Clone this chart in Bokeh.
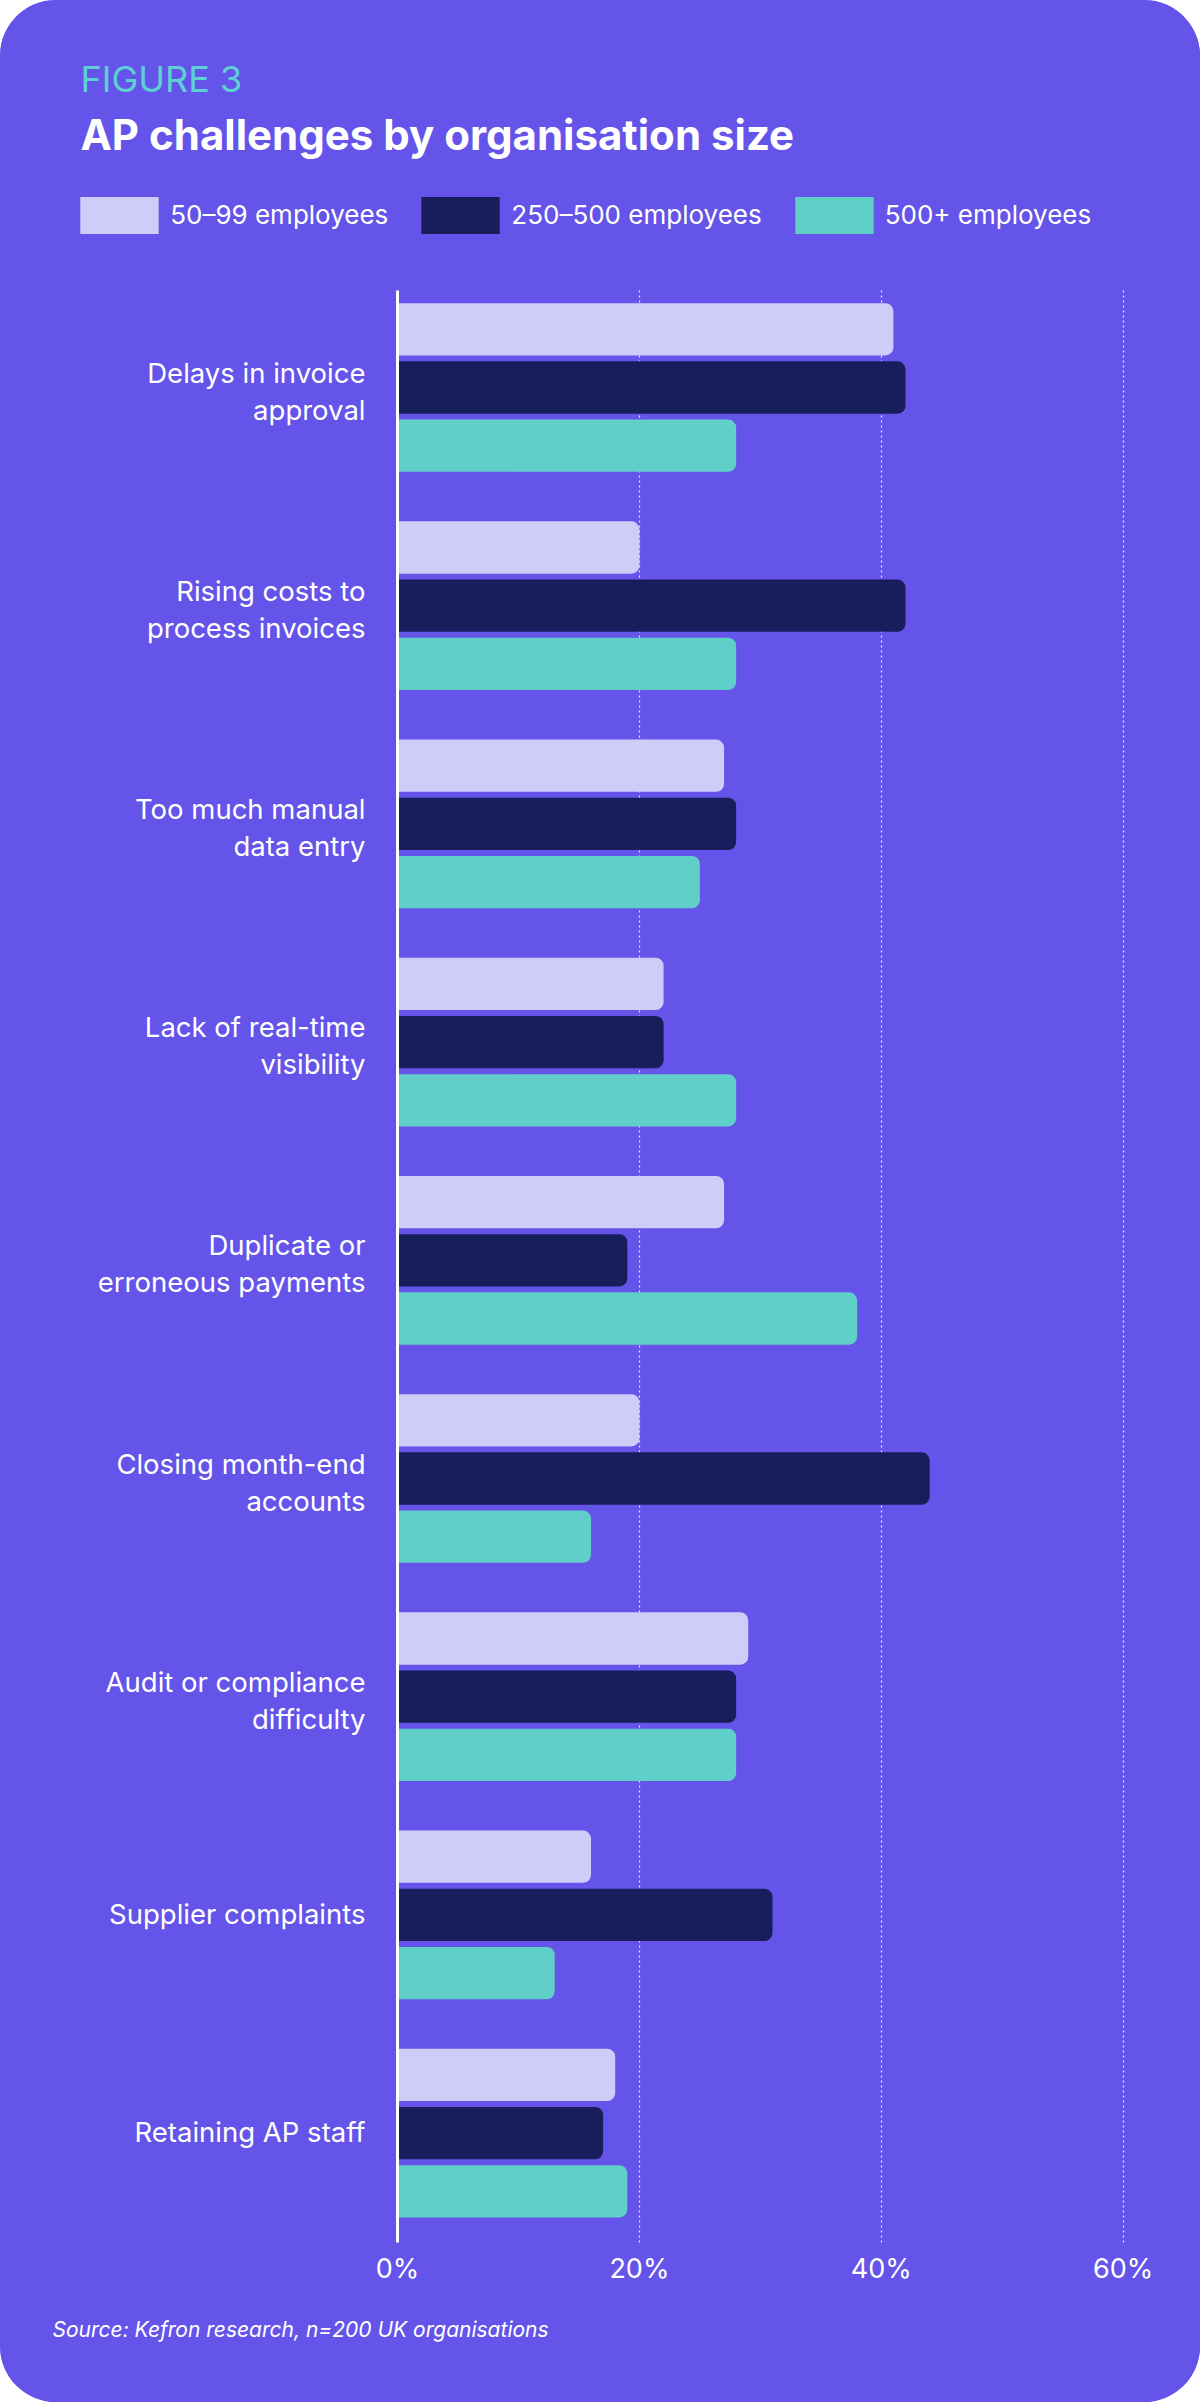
import numpy as np
from bokeh.plotting import figure
from bokeh.models import (Range1d, FixedTicker, PrintfTickFormatter, Label, LabelSet, Grid,
                          ColumnDataSource, Legend, LegendItem)
from bokeh.core.properties import value
from bokeh.embed import file_html
from bokeh.resources import INLINE

# ---------------- data ----------------
categories = ["Delays in invoice\napproval", "Rising costs to\nprocess invoices",
              "Too much manual\ndata entry", "Lack of real-time\nvisibility",
              "Duplicate or\nerroneous payments", "Closing month-end\naccounts",
              "Audit or compliance\ndifficulty", "Supplier complaints", "Retaining AP staff"]
series_names = ["50\u201399 employees", "250\u2013500 employees", "500+ employees"]
small_org = [41, 20, 27, 22, 27, 20, 29, 16, 18]
mid_org = [42, 42, 28, 22, 19, 44, 28, 31, 17]
large_org = [28, 28, 25, 28, 38, 16, 28, 13, 19]
x_ticks = [0, 20, 40, 60]
fig_label = "FIGURE 3"
title_text = "AP challenges by organisation size"
source_text = "Source: Kefron research, n=200 UK organisations"

# ---------------- style / layout ----------------
BG = "#6454EA"
COLORS = ["#D0CCF8", "#171E5B", "#61CFC9"]
TEAL_TXT = "#5DD0D3"
FONT = "Inter"

W, H = 1200, 2402
GROUP_PX = 218.2          # pixels between category groups
FIRST_PX = 387            # canvas y of first group's centre
PCT_PX = 12.095           # pixels per percentage point
ZERO_PX = 397             # canvas x of the 0 % line
PLOT_TOP_PX, PLOT_BOT_PX = 290, 2242

def ydata(cy):
    return (cy - FIRST_PX) / GROUP_PX

y_top, y_bot = ydata(PLOT_TOP_PX), ydata(PLOT_BOT_PX)
bar_step = 58.2 / GROUP_PX
bar_h = 52.3 / GROUP_PX

p = figure(width=W, height=H,
           x_range=Range1d(-ZERO_PX / PCT_PX, (W - ZERO_PX) / PCT_PX),
           y_range=Range1d(ydata(H), ydata(0)),
           output_backend="svg", toolbar_location=None, title=None,
           min_border_left=0, min_border_right=0, min_border_top=0, min_border_bottom=0,
           background_fill_color=BG, border_fill_color=BG, outline_line_color=None)
p.styles = {"border-radius": "56px", "overflow": "hidden", "background-color": BG}

idx = np.arange(len(categories))
renderers = []
for k, (vals, col) in enumerate(zip([small_org, mid_org, large_org], COLORS)):
    src = ColumnDataSource(dict(y=idx + (k - 1) * bar_step, v=vals))
    r = p.hbar(y="y", left=0, right="v", height=bar_h, source=src,
               fill_color=col, line_color=None, border_radius=(0, 8, 8, 0))
    renderers.append(r)

# vertical dotted grid
p.ygrid.visible = False
if "cross_bounds" in Grid.properties():
    p.xgrid.ticker = FixedTicker(ticks=x_ticks[1:])
    p.xgrid.cross_bounds = (y_top, y_bot)
    p.xgrid.grid_line_color = "white"
    p.xgrid.grid_line_alpha = 0.85
    p.xgrid.grid_line_width = 1.2
    p.xgrid.grid_line_dash = "2 3"
else:
    p.xgrid.visible = False
    gx = x_ticks[1:]
    p.segment(x0=gx, x1=gx, y0=[y_top] * len(gx), y1=[y_bot] * len(gx),
              line_color="white", line_alpha=0.85, line_width=1.2, line_dash="2 3")

# left axis: white baseline at 0 %
p.yaxis.fixed_location = 0
p.yaxis.bounds = (y_top, y_bot)
p.yaxis.ticker = FixedTicker(ticks=[])
p.yaxis.axis_line_color = "white"
p.yaxis.axis_line_width = 3
p.yaxis.major_tick_line_color = None
p.yaxis.minor_tick_line_color = None
p.yaxis.major_tick_out = 0
p.yaxis.major_label_standoff = 0
p.yaxis.major_label_text_font_size = "0px"

# bottom axis: percentage ticks
p.xaxis.fixed_location = y_bot
p.xaxis.ticker = FixedTicker(ticks=x_ticks)
p.xaxis.formatter = PrintfTickFormatter(format="%d%%")
p.xaxis.axis_line_color = None
p.xaxis.major_tick_line_color = None
p.xaxis.minor_tick_line_color = None
p.xaxis.major_tick_out = 0
p.xaxis.major_tick_in = 0
p.xaxis.major_label_text_color = "white"
p.xaxis.major_label_text_font = FONT
p.xaxis.major_label_text_font_size = "27px"
p.xaxis.major_label_standoff = 9

# category labels (right-aligned, one row per text line)
lx, ly, lt = [], [], []
for i, c in enumerate(categories):
    lines = c.split("\n")
    offs = [9] if len(lines) == 1 else [-5, 32]
    for line, o in zip(lines, offs):
        lt.append(line)
        ly.append(i + o / GROUP_PX)
        lx.append(365)
lab_src = ColumnDataSource(dict(x=lx, y=ly, t=lt))
p.add_layout(LabelSet(x="x", y="y", text="t", source=lab_src, x_units="screen", y_units="data",
                      text_align="right", text_baseline="alphabetic", text_color="white",
                      text_font=value(FONT), text_font_size="27.5px"))

# legend (legend glyphs are drawn inset by 10 % of the glyph box)
GW, GH = 98, 46
inset_x, inset_y = 0.1 * GW, 0.1 * GH
legend = Legend(items=[LegendItem(label=n, renderers=[r]) for n, r in zip(series_names, renderers)],
                orientation="horizontal", location=(80 - inset_x, H - 233 - inset_y),
                padding=0, margin=0, spacing=23, glyph_width=GW, glyph_height=GH,
                label_standoff=2,
                label_text_font=FONT, label_text_font_size="26px", label_text_color="white",
                background_fill_alpha=0, border_line_color=None)
p.add_layout(legend, "center")

def canvas_label(text, cx, cy, size, color, style="normal", shift=16):
    return Label(x=cx, y=H - cy + shift, x_units="screen", y_units="screen", text=text,
                 text_font=FONT, text_font_size=size, text_color=color, text_font_style=style,
                 text_baseline="alphabetic", text_align="left")

p.add_layout(canvas_label(fig_label, 80, 94, "36px", TEAL_TXT))
p.add_layout(canvas_label(title_text, 80, 150, "42px", "white", "bold"))
p.add_layout(canvas_label(source_text, 52, 2338, "21px", "white", "italic", shift=9))

open("out.html", "w").write(file_html(p, INLINE))
